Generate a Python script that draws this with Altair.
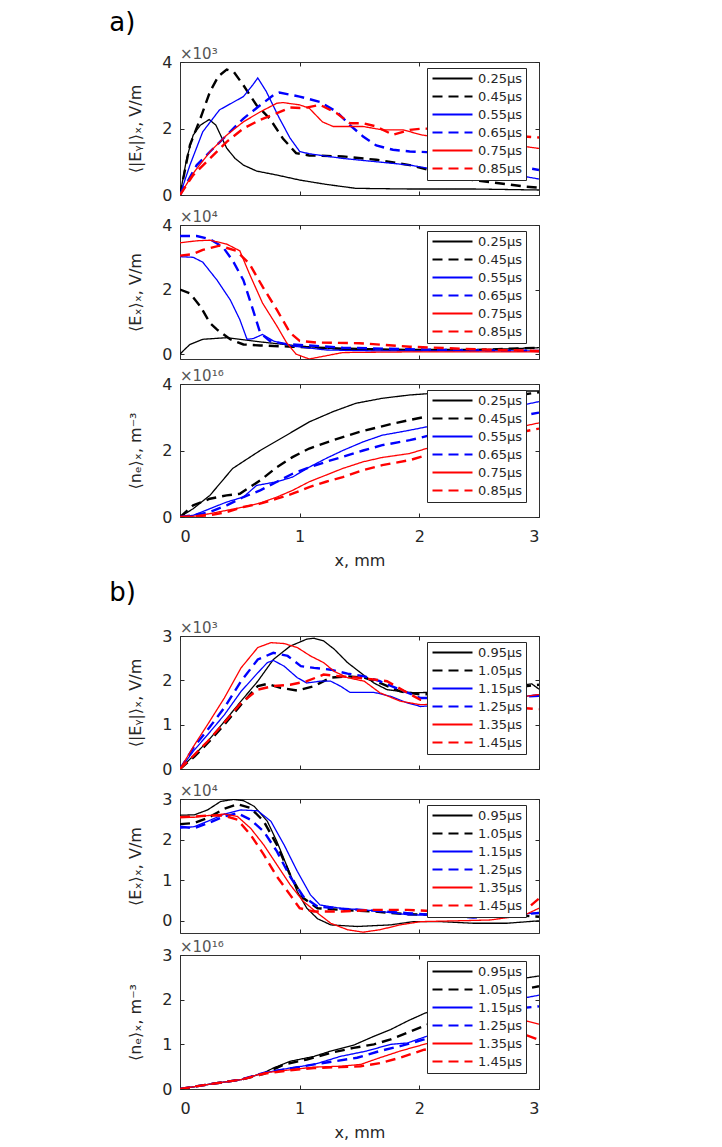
import altair as alt
import pandas as pd

# ---------------- data ----------------
X_TICKS = [0, 1, 2, 3]

LABELS_A = ["0.25μs", "0.45μs", "0.55μs", "0.65μs", "0.75μs", "0.85μs"]
LABELS_B = ["0.95μs", "1.05μs", "1.15μs", "1.25μs", "1.35μs", "1.45μs"]

# panel a, <|Ey|>x in 1e3 V/m
EYA_025 = [(0, 0), (0.056, 1.1), (0.11, 1.8), (0.17, 2.1), (0.244, 2.27), (0.3, 2.1), (0.39, 1.41), (0.46, 1.1),
           (0.53, 0.9), (0.64, 0.72), (0.81, 0.6), (1.0, 0.45), (1.22, 0.32), (1.47, 0.2), (1.92, 0.18), (2.47, 0.18), (3.0, 0.15)]
EYA_045 = [(0, 0), (0.083, 1.5), (0.17, 2.3), (0.25, 3.1), (0.32, 3.57), (0.39, 3.77), (0.45, 3.7), (0.53, 3.3),
           (0.64, 2.7), (0.75, 2.3), (0.86, 1.7), (0.97, 1.26), (1.08, 1.19), (1.36, 1.16), (1.64, 1.06), (1.92, 0.9),
           (2.14, 0.7), (2.33, 0.5), (2.61, 0.38), (2.89, 0.25), (3.0, 0.22)]
EYA_055 = [(0, 0), (0.083, 0.9), (0.19, 1.9), (0.33, 2.56), (0.53, 2.96), (0.61, 3.32), (0.65, 3.52), (0.72, 3.12),
           (0.83, 2.31), (0.92, 1.71), (1.0, 1.31), (1.08, 1.24), (1.36, 1.1), (1.64, 1.0), (1.92, 0.9), (2.08, 0.8),
           (2.33, 0.75), (2.61, 0.7), (2.89, 0.55), (3.0, 0.48)]
EYA_065 = [(0, 0), (0.14, 0.9), (0.25, 1.3), (0.39, 1.8), (0.53, 2.3), (0.67, 2.7), (0.78, 3.0), (0.83, 3.08),
           (1.0, 2.96), (1.17, 2.8), (1.31, 2.5), (1.42, 2.1), (1.53, 1.76), (1.64, 1.49), (1.78, 1.36), (1.92, 1.31),
           (2.06, 1.29), (2.4, 1.2), (2.7, 0.95), (3.0, 0.75)]
EYA_075 = [(0, 0), (0.11, 0.65), (0.25, 1.3), (0.39, 1.8), (0.53, 2.2), (0.67, 2.5), (0.81, 2.76), (0.86, 2.78),
           (1.0, 2.71), (1.08, 2.61), (1.19, 2.2), (1.28, 2.06), (1.42, 2.06), (1.53, 2.06), (1.69, 1.96), (1.86, 1.96),
           (2.03, 1.8), (2.19, 1.72), (2.5, 1.7), (2.8, 1.5), (3.0, 1.4)]
EYA_085 = [(0, 0), (0.11, 0.6), (0.25, 1.1), (0.39, 1.6), (0.53, 2.0), (0.67, 2.26), (0.81, 2.46), (0.92, 2.63),
           (1.03, 2.61), (1.17, 2.71), (1.31, 2.46), (1.42, 2.16), (1.53, 2.16), (1.64, 2.06), (1.78, 1.81), (1.92, 1.96),
           (2.03, 2.0), (2.4, 1.95), (2.7, 1.8), (3.0, 1.73)]

# panel a, <Ex>x in 1e4 V/m
EXA_025 = [(0, 0), (0.04, 0.15), (0.083, 0.3), (0.19, 0.46), (0.39, 0.51), (0.67, 0.38), (1.0, 0.25), (1.36, 0.15),
           (1.92, 0.12), (2.47, 0.13), (3.0, 0.2)]
EXA_045 = [(0, 2.0), (0.083, 1.88), (0.17, 1.48), (0.25, 0.97), (0.31, 0.76), (0.42, 0.46), (0.53, 0.3), (0.67, 0.27),
           (0.94, 0.23), (1.36, 0.17), (1.92, 0.13), (2.47, 0.13), (3.0, 0.2)]
EXA_055 = [(0, 3.02), (0.11, 3.0), (0.19, 2.85), (0.31, 2.29), (0.42, 1.68), (0.5, 1.07), (0.56, 0.46), (0.61, 0.48),
           (0.69, 0.61), (0.78, 0.41), (0.94, 0.25), (1.22, 0.13), (1.64, 0.1), (2.47, 0.1), (3.0, 0.1)]
EXA_065 = [(0, 3.66), (0.14, 3.66), (0.25, 3.56), (0.36, 3.31), (0.44, 2.9), (0.53, 2.29), (0.61, 1.37), (0.67, 0.66),
           (0.75, 0.41), (0.89, 0.31), (1.08, 0.27), (1.36, 0.2), (1.92, 0.15), (2.47, 0.12), (3.0, 0.1)]
EXA_075 = [(0, 3.45), (0.14, 3.51), (0.25, 3.53), (0.39, 3.41), (0.5, 3.2), (0.58, 2.49), (0.69, 1.58), (0.81, 0.87),
           (0.89, 0.36), (0.97, 0.0), (1.08, -0.15), (1.22, -0.05), (1.36, 0.05), (1.92, 0.07), (2.47, 0.07), (3.0, 0.07)]
EXA_085 = [(0, 3.05), (0.11, 3.1), (0.19, 3.23), (0.33, 3.36), (0.47, 3.2), (0.58, 2.8), (0.69, 2.09), (0.81, 1.37),
           (0.92, 0.66), (1.0, 0.41), (1.14, 0.36), (1.5, 0.34), (1.92, 0.23), (2.47, 0.15), (3.0, 0.1)]

# panel a, <ne>x in 1e16 m^-3
NEA_025 = [(0, 0), (0.11, 0.25), (0.25, 0.65), (0.44, 1.46), (0.67, 2.0), (0.89, 2.46), (1.08, 2.86), (1.28, 3.17),
           (1.47, 3.42), (1.69, 3.57), (1.92, 3.67), (2.19, 3.74), (2.75, 3.79), (3.0, 3.79)]
NEA_045 = [(0, 0), (0.11, 0.35), (0.25, 0.55), (0.39, 0.65), (0.5, 0.7), (0.67, 1.1), (0.81, 1.5), (0.94, 1.8),
           (1.08, 2.06), (1.28, 2.31), (1.5, 2.56), (1.78, 2.81), (2.03, 3.0), (2.4, 3.3), (2.7, 3.6), (3.0, 3.75)]
NEA_055 = [(0, 0), (0.11, 0.05), (0.25, 0.25), (0.39, 0.45), (0.53, 0.6), (0.64, 0.95), (0.81, 1.06), (0.94, 1.2),
           (1.08, 1.5), (1.22, 1.76), (1.36, 2.0), (1.53, 2.26), (1.69, 2.46), (1.92, 2.61), (2.06, 2.71), (2.5, 3.1), (3.0, 3.47)]
NEA_065 = [(0, 0), (0.11, 0.05), (0.25, 0.15), (0.39, 0.35), (0.53, 0.6), (0.67, 0.8), (0.81, 1.06), (0.94, 1.3),
           (1.08, 1.49), (1.22, 1.66), (1.36, 1.81), (1.53, 2.0), (1.69, 2.16), (1.92, 2.31), (2.06, 2.43), (2.5, 2.8), (3.0, 3.14)]
NEA_075 = [(0, 0), (0.11, 0.02), (0.25, 0.1), (0.39, 0.2), (0.53, 0.3), (0.67, 0.42), (0.81, 0.6), (0.94, 0.8),
           (1.08, 1.06), (1.22, 1.26), (1.36, 1.46), (1.53, 1.66), (1.69, 1.79), (1.92, 1.91), (2.06, 2.06), (2.5, 2.45), (3.0, 2.83)]
NEA_085 = [(0, 0), (0.11, 0.02), (0.25, 0.05), (0.39, 0.15), (0.53, 0.3), (0.67, 0.4), (0.81, 0.55), (0.94, 0.7),
           (1.08, 0.9), (1.22, 1.06), (1.36, 1.2), (1.53, 1.41), (1.69, 1.56), (1.92, 1.71), (2.06, 1.86), (2.5, 2.3), (3.0, 2.66)]

# panel b, <|Ey|>x in 1e3 V/m
EYB_095 = [(0, 0), (0.12, 0.32), (0.23, 0.62), (0.37, 1.07), (0.51, 1.53), (0.65, 1.98), (0.78, 2.47), (0.92, 2.77),
           (1.06, 2.93), (1.12, 2.95), (1.2, 2.89), (1.29, 2.7), (1.4, 2.4), (1.51, 2.17), (1.62, 1.94), (1.73, 1.79),
           (1.9, 1.73), (1.98, 1.72), (2.3, 1.75), (2.7, 1.85), (2.94, 1.92), (3.0, 1.8)]
EYB_105 = [(0, 0), (0.12, 0.28), (0.23, 0.58), (0.37, 1.0), (0.51, 1.45), (0.65, 1.87), (0.73, 1.92), (0.84, 1.83),
           (0.98, 1.77), (1.12, 1.87), (1.26, 2.06), (1.4, 2.09), (1.54, 2.06), (1.67, 1.94), (1.84, 1.75), (2.01, 1.68),
           (2.5, 1.75), (3.0, 1.9)]
EYB_115 = [(0, 0), (0.12, 0.43), (0.23, 0.77), (0.37, 1.22), (0.51, 1.75), (0.65, 2.17), (0.73, 2.4), (0.78, 2.45),
           (0.87, 2.32), (0.98, 2.06), (1.06, 1.94), (1.17, 1.98), (1.26, 1.98), (1.34, 1.87), (1.42, 1.73), (1.62, 1.73),
           (1.76, 1.64), (1.9, 1.49), (2.01, 1.41), (2.5, 1.5), (3.0, 1.68)]
EYB_125 = [(0, 0), (0.12, 0.51), (0.23, 0.88), (0.37, 1.38), (0.51, 1.98), (0.65, 2.47), (0.78, 2.62), (0.9, 2.55),
           (1.01, 2.32), (1.12, 2.28), (1.26, 2.24), (1.4, 2.15), (1.54, 2.09), (1.67, 1.98), (1.84, 1.79), (2.01, 1.6),
           (2.5, 1.6), (3.0, 1.65)]
EYB_135 = [(0, 0), (0.12, 0.54), (0.23, 1.0), (0.37, 1.6), (0.51, 2.28), (0.65, 2.74), (0.76, 2.85), (0.87, 2.83),
           (0.98, 2.74), (1.09, 2.55), (1.2, 2.4), (1.29, 2.2), (1.4, 2.06), (1.54, 1.98), (1.67, 1.72), (1.84, 1.53),
           (2.01, 1.45), (2.5, 1.5), (3.0, 1.68)]
EYB_145 = [(0, 0), (0.12, 0.32), (0.23, 0.62), (0.37, 1.04), (0.51, 1.49), (0.65, 1.79), (0.78, 1.87), (0.92, 1.9),
           (1.06, 1.98), (1.2, 2.13), (1.34, 2.09), (1.48, 2.06), (1.62, 2.02), (1.73, 1.98), (1.9, 1.72), (2.01, 1.56),
           (2.5, 1.45), (3.0, 1.35)]

# panel b, <Ex>x in 1e4 V/m
EXB_095 = [(0, 2.6), (0.12, 2.61), (0.23, 2.73), (0.34, 2.94), (0.45, 2.99), (0.53, 2.96), (0.62, 2.82), (0.73, 2.45),
           (0.81, 1.95), (0.9, 1.3), (0.98, 0.72), (1.06, 0.31), (1.15, 0.05), (1.26, -0.1), (1.48, -0.14), (1.76, -0.1),
           (1.95, -0.02), (2.18, -0.02), (2.45, -0.06), (2.73, -0.06), (3.0, 0.0)]
EXB_105 = [(0, 2.38), (0.12, 2.41), (0.23, 2.53), (0.37, 2.76), (0.48, 2.87), (0.59, 2.78), (0.7, 2.45), (0.81, 1.87),
           (0.92, 1.13), (1.03, 0.56), (1.15, 0.31), (1.34, 0.27), (1.62, 0.23), (1.9, 0.16), (2.18, 0.15), (2.73, 0.15), (3.0, 0.1)]
EXB_115 = [(0, 2.28), (0.12, 2.32), (0.23, 2.45), (0.37, 2.63), (0.51, 2.73), (0.65, 2.71), (0.76, 2.45), (0.87, 1.87),
           (0.98, 1.22), (1.09, 0.64), (1.17, 0.39), (1.34, 0.31), (1.62, 0.25), (1.9, 0.15), (2.18, 0.13), (2.73, 0.11), (3.0, 0.21)]
EXB_125 = [(0, 2.32), (0.12, 2.28), (0.23, 2.4), (0.37, 2.57), (0.48, 2.65), (0.59, 2.49), (0.7, 2.2), (0.81, 1.71),
           (0.92, 1.09), (1.03, 0.6), (1.15, 0.35), (1.34, 0.3), (1.62, 0.25), (1.9, 0.19), (2.45, 0.08), (3.0, 0.19)]
EXB_135 = [(0, 2.55), (0.12, 2.55), (0.23, 2.59), (0.37, 2.63), (0.48, 2.57), (0.59, 2.28), (0.7, 1.87), (0.81, 1.38),
           (0.92, 0.89), (1.03, 0.48), (1.15, 0.19), (1.26, -0.06), (1.4, -0.22), (1.53, -0.28), (1.67, -0.22), (1.84, -0.1),
           (2.01, -0.02), (2.31, 0.0), (2.59, 0.02), (2.87, 0.13), (3.0, 0.31)]
EXB_145 = [(0, 2.55), (0.12, 2.57), (0.23, 2.59), (0.37, 2.59), (0.48, 2.49), (0.59, 2.12), (0.7, 1.63), (0.81, 1.09),
           (0.92, 0.64), (1.0, 0.31), (1.12, 0.23), (1.34, 0.23), (1.62, 0.27), (1.9, 0.27), (2.18, 0.23), (2.45, 0.19),
           (2.73, 0.19), (2.9, 0.3), (3.0, 0.55)]

# panel b, <ne>x in 1e16 m^-3
NEB_095 = [(0, 0), (0.23, 0.1), (0.51, 0.21), (0.7, 0.36), (0.78, 0.47), (0.92, 0.62), (1.12, 0.73), (1.26, 0.85),
           (1.45, 0.98), (1.62, 1.18), (1.76, 1.33), (1.9, 1.52), (2.04, 1.69), (2.5, 2.15), (2.8, 2.45), (3.0, 2.53)]
NEB_105 = [(0, 0), (0.23, 0.1), (0.51, 0.21), (0.7, 0.34), (0.87, 0.55), (1.06, 0.66), (1.26, 0.81), (1.45, 0.92),
           (1.62, 1.0), (1.76, 1.11), (1.9, 1.26), (2.04, 1.41), (2.5, 1.9), (2.8, 2.2), (3.0, 2.3)]
NEB_115 = [(0, 0), (0.23, 0.1), (0.51, 0.21), (0.7, 0.36), (0.92, 0.47), (1.12, 0.55), (1.34, 0.73), (1.56, 0.85),
           (1.76, 1.0), (1.9, 1.03), (2.04, 1.16), (2.5, 1.6), (2.8, 2.0), (3.0, 2.1)]
NEB_125 = [(0, 0), (0.23, 0.1), (0.51, 0.21), (0.7, 0.36), (0.92, 0.46), (1.12, 0.55), (1.29, 0.62), (1.48, 0.7),
           (1.67, 0.85), (1.84, 0.96), (2.04, 1.11), (2.5, 1.5), (2.8, 1.8), (3.0, 1.85)]
NEB_135 = [(0, 0), (0.23, 0.1), (0.51, 0.21), (0.7, 0.36), (0.92, 0.43), (1.12, 0.49), (1.34, 0.51), (1.51, 0.55),
           (1.67, 0.7), (1.84, 0.85), (2.04, 1.0), (2.5, 1.3), (2.9, 1.52), (3.0, 1.45)]
NEB_145 = [(0, 0), (0.23, 0.1), (0.51, 0.21), (0.7, 0.34), (0.92, 0.42), (1.12, 0.47), (1.34, 0.49), (1.51, 0.51),
           (1.67, 0.58), (1.84, 0.7), (2.04, 0.88), (2.5, 1.05), (2.9, 1.2), (3.0, 1.1)]

COLORS = ["#000000", "#000000", "#0000ff", "#0000ff", "#ff0000", "#ff0000"]
DASHES = [[1, 0], [10, 6], [1, 0], [10, 6], [1, 0], [10, 6]]
WIDTHS = [1.3, 2.4, 1.3, 2.4, 1.3, 2.4]

FONT = "DejaVu Sans"
INK = "#262626"
W = 359


def panel(curves, labels, ydom, yticks, exp_text, ytitle, height, bottom):
    rows = []
    for k, (lab, pts) in enumerate(zip(labels, curves)):
        for i, (xv, yv) in enumerate(pts):
            rows.append({"x": xv, "y": yv, "s": lab, "o": i, "w": WIDTHS[k]})
    df = pd.DataFrame(rows)

    xscale = alt.Scale(domain=[0, 3], nice=False, zero=False)
    yscale = alt.Scale(domain=ydom, nice=False, zero=False)
    leg = alt.Legend(title=None, orient="none", legendX=247, legendY=6)

    if bottom:
        xaxis = alt.Axis(values=X_TICKS, labels=True, title="x, mm",
                         tickSize=4, offset=-4, domain=False, grid=False, labelPadding=11,
                         format="d", titlePadding=8, minExtent=0)
    else:
        xaxis = alt.Axis(values=X_TICKS, labels=False, title=None,
                         tickSize=4, offset=-4, domain=False, grid=False, labelPadding=0,
                         minExtent=0, maxExtent=0)
    yaxis = alt.Axis(values=yticks, title=ytitle, tickSize=4, offset=-4, domain=False,
                     grid=False, labelPadding=8, format="d", titlePadding=18)

    main = alt.Chart(df).mark_line(clip=True).encode(
        x=alt.X("x:Q", scale=xscale, axis=xaxis),
        y=alt.Y("y:Q", scale=yscale, axis=yaxis),
        color=alt.Color("s:N", scale=alt.Scale(domain=labels, range=COLORS), legend=leg),
        strokeDash=alt.StrokeDash("s:N", scale=alt.Scale(domain=labels, range=DASHES), legend=leg),
        strokeWidth=alt.StrokeWidth("w:Q", scale=None, legend=None),
        order="o:Q",
    )
    frame = alt.Chart(df).mark_line(opacity=0).encode(
        x=alt.X("x:Q", scale=xscale,
                axis=alt.Axis(orient="top", values=X_TICKS, labels=False, title=None, tickSize=4,
                              offset=-4, domain=False, grid=False, labelPadding=0, minExtent=0, maxExtent=0)),
        y=alt.Y("y:Q", scale=yscale,
                axis=alt.Axis(orient="right", values=yticks, labels=False, title=None, tickSize=4,
                              offset=-4, domain=False, grid=False, labelPadding=0, minExtent=0, maxExtent=0)),
    )
    return alt.layer(main, frame).resolve_scale(x="independent", y="independent").properties(
        width=W, height=height,
        title=alt.TitleParams(exp_text, anchor="start", frame="group", fontSize=15,
                              fontWeight="normal", color="#555555", font=FONT, offset=-8),
    )


def group(charts, letter, off):
    g = alt.vconcat(*charts, spacing=5)
    g = g.resolve_scale(color="independent", strokeDash="independent").resolve_legend(
        color="independent", strokeDash="independent")
    return g.properties(title=alt.TitleParams(letter, anchor="start", fontSize=26, fontWeight="normal",
                                              color="#000000", font=FONT, dx=-18, offset=off))


T_EY = "⟨|Eᵧ|⟩ₓ, V/m"
T_EX = "⟨Eₓ⟩ₓ, V/m"
T_NE = "⟨nₑ⟩ₓ, m⁻³"

a = group([
    panel([EYA_025, EYA_045, EYA_055, EYA_065, EYA_075, EYA_085], LABELS_A, [0, 4], [0, 2, 4], "×10³", T_EY, 133, False),
    panel([EXA_025, EXA_045, EXA_055, EXA_065, EXA_075, EXA_085], LABELS_A, [-0.15, 4], [0, 2, 4], "×10⁴", T_EX, 134, False),
    panel([NEA_025, NEA_045, NEA_055, NEA_065, NEA_075, NEA_085], LABELS_A, [0, 4], [0, 2, 4], "×10¹⁶", T_NE, 133, True),
], "a)", 11)
b = group([
    panel([EYB_095, EYB_105, EYB_115, EYB_125, EYB_135, EYB_145], LABELS_B, [0, 3], [0, 1, 2, 3], "×10³", T_EY, 133, False),
    panel([EXB_095, EXB_105, EXB_115, EXB_125, EXB_135, EXB_145], LABELS_B, [-0.3, 3], [0, 1, 2, 3], "×10⁴", T_EX, 134, False),
    panel([NEB_095, NEB_105, NEB_115, NEB_125, NEB_135, NEB_145], LABELS_B, [0, 3], [0, 1, 2, 3], "×10¹⁶", T_NE, 134, True),
], "b)", 15)

chart = alt.vconcat(a, b, spacing=10).resolve_scale(
    color="independent", strokeDash="independent").resolve_legend(
    color="independent", strokeDash="independent").properties(
    padding={"left": 101, "top": 1, "right": 5, "bottom": 2}
).configure(font=FONT).configure_view(
    stroke="#333333", strokeWidth=1
).configure_axis(
    labelFont=FONT, titleFont=FONT, labelFontSize=16, titleFontSize=16,
    labelColor=INK, titleColor=INK, tickColor=INK, titleFontWeight="normal",
).configure_legend(
    strokeColor=INK, fillColor="white", padding=4, labelFontSize=13, labelFont=FONT,
    labelColor=INK, symbolStrokeWidth=2.2, symbolSize=100, symbolType="M-1,0H7",
    rowPadding=4, labelOffset=34, cornerRadius=0, strokeWidth=1,
)

chart.save("out.html", embed_options={"renderer": "svg", "actions": False})
